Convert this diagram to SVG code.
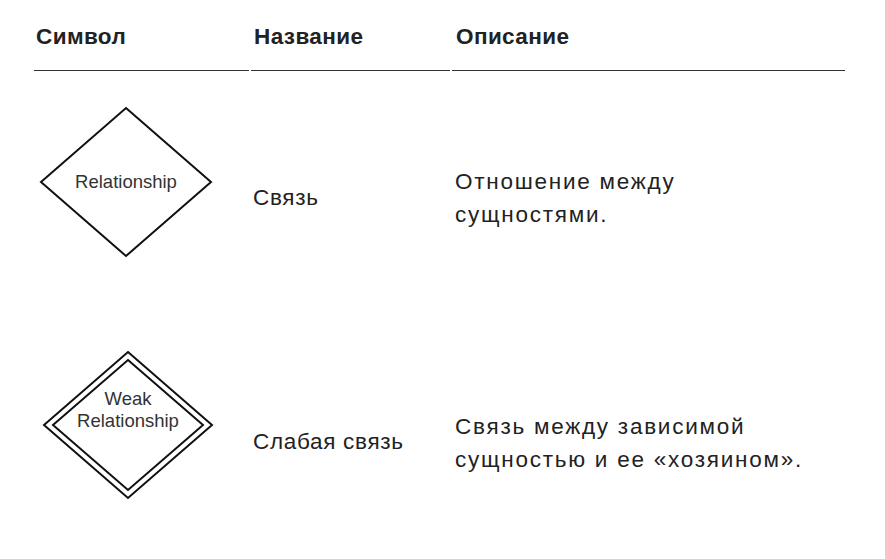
<svg xmlns="http://www.w3.org/2000/svg" width="885" height="559" viewBox="0 0 885 559">
<style>
.hdr{font-family:"Liberation Sans",Arial,sans-serif;font-size:22.5px;font-weight:bold;fill:#222;letter-spacing:0.4px}
.name{font-family:"Liberation Sans",Arial,sans-serif;font-size:22.5px;fill:#222;letter-spacing:0.7px}
.desc{font-family:"Liberation Sans",Arial,sans-serif;font-size:22.5px;fill:#222;letter-spacing:1.75px}
.lbl{font-family:"Liberation Sans",Arial,sans-serif;font-size:18.5px;fill:#333;text-anchor:middle}
.shape{fill:#fff;stroke:#111;stroke-width:2}
.rule{stroke:#333;stroke-width:1.2}
</style>
<rect width="885" height="559" fill="#fff"/>
<g id="header">
<text class="hdr" x="36" y="44">Символ</text>
<text class="hdr" x="254" y="44">Название</text>
<text class="hdr" x="456" y="44">Описание</text>
<line class="rule" x1="34" y1="70.5" x2="249" y2="70.5"/>
<line class="rule" x1="251" y1="70.5" x2="450" y2="70.5"/>
<line class="rule" x1="452" y1="70.5" x2="845" y2="70.5"/>
</g>
<g id="relationship">
<polygon class="shape" points="126,108 211,182 126,256 41,182"/>
<text class="lbl" x="126" y="188">Relationship</text>
</g>
<g id="row1-text">
<text class="name" x="253" y="205">Связь</text>
<text class="desc" x="455" y="189">Отношение между</text>
<text class="desc" x="455" y="222">сущностями.</text>
</g>
<g id="weak-relationship">
<polygon class="shape" points="128,352 212,425 128,498 44,425"/>
<polygon class="shape" points="128,360 203,425 128,490 53,425"/>
<text class="lbl" x="128" y="405">Weak</text>
<text class="lbl" x="128" y="427">Relationship</text>
</g>
<g id="row2-text">
<text class="name" x="253" y="449">Слабая связь</text>
<text class="desc" x="455" y="434">Связь между зависимой</text>
<text class="desc" x="455" y="467">сущностью и ее «хозяином».</text>
</g>
<g id="connectors"></g>
</svg>
